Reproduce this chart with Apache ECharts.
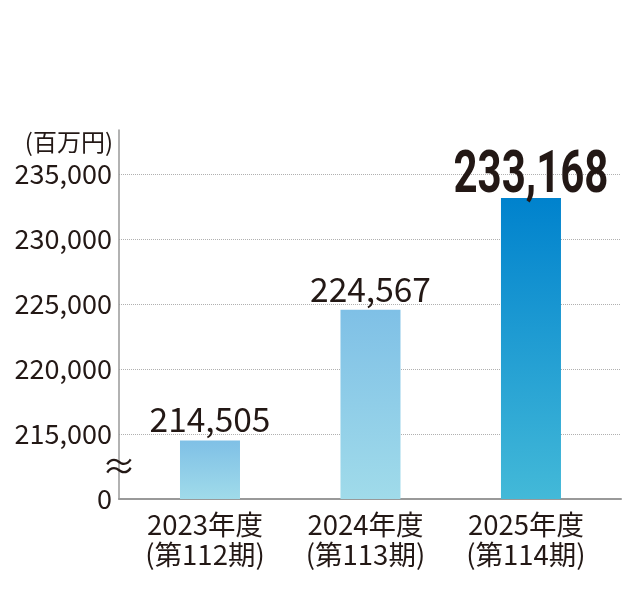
<!DOCTYPE html>
<html><head><meta charset="utf-8">
<script src="https://cdn.jsdelivr.net/npm/echarts@6/dist/echarts.min.js"></script>
<style>html,body{margin:0;padding:0;background:#fff}#c{width:635px;height:600px}</style>
</head><body><div id="c"></div>
<script>
// ---- data ----
const fiscalYears = ['2023年度', '2024年度', '2025年度'];
const periods = ['(第112期)', '(第113期)', '(第114期)'];
const sales = [214505, 224567, 233168];          // 百万円
const unitLabel = '(百万円)';
const axisFloor = 210000;                          // shown as "0" below the break
const yTickStep = 5000;

// ---- styling ----
const TXT = '#231815';
const JP = '"Noto Sans CJK JP", "Noto Sans", sans-serif';
const barGradients = [
  ['#7fc0e6', '#a0dbea'],
  ['#7fc0e6', '#a0dbea'],
  ['#0082cd', '#43b9d8']
];
const fmt = v => v.toLocaleString('en-US');
const lastIdx = sales.length - 1;

const chart = echarts.init(document.getElementById('c'), null, {renderer: 'canvas'});
const xMin = -0.567, xMax = 2.561;

const option = {
  animation: false,
  backgroundColor: '#fff',
  grid: {left: 119, right: 14, top: 130, bottom: 101, containLabel: false},
  xAxis: {
    type: 'value', min: xMin, max: xMax,
    axisLine: {show: true, onZero: false, lineStyle: {color: '#999', width: 2}},
    axisTick: {show: false},
    splitLine: {show: false},
    axisLabel: {
      customValues: fiscalYears.map((_, i) => i),
      formatter: v => fiscalYears[v] + '\n' + periods[v],
      color: TXT, fontSize: 27.5, lineHeight: 30, fontFamily: JP, margin: 11,
      padding: [0, 10, 0, 0]
    }
  },
  yAxis: {
    type: 'value', min: axisFloor, max: 238400, interval: yTickStep,
    name: unitLabel, nameLocation: 'end', nameGap: -12,
    nameTextStyle: {color: TXT, fontSize: 24, fontFamily: JP, align: 'right', verticalAlign: 'middle', padding: [0, 6, 0, 0]},
    axisLine: {show: true, onZero: false, lineStyle: {color: '#999', width: 1.5}},
    axisTick: {show: false},
    splitLine: {show: true, showMinLine: false, showMaxLine: false, lineStyle: {color: '#b0b0b0', type: 'dotted', width: 1}},
    axisLabel: {
      color: TXT, fontSize: 27, fontFamily: JP, margin: 7,
      formatter: v => v === axisFloor ? '0' : (v % yTickStep === 0 ? fmt(v) : '')
    }
  },
  series: [{
    type: 'bar',
    barWidth: 60,
    data: sales.map((v, i) => ({
      value: [i, v],
      itemStyle: {color: new echarts.graphic.LinearGradient(0, 0, 0, 1, [
        {offset: 0, color: barGradients[i][0]}, {offset: 1, color: barGradients[i][1]}])},
      label: {show: i !== lastIdx}
    })),
    label: {
      show: true, position: 'top', distance: 4,
      color: TXT, fontSize: 33.5, fontFamily: JP,
      formatter: p => fmt(p.value[1])
    }
  }]
};
chart.setOption(option);

// highlighted latest value: bold condensed (horizontally scaled) text above the last bar
const lastTop = chart.convertToPixel({gridIndex: 0}, [lastIdx, sales[lastIdx]]);
// axis-break mark on the y axis
const bp = chart.convertToPixel({gridIndex: 0}, [xMin, axisFloor + 2500]);
chart.setOption({
  graphic: [
    {
      type: 'text', x: lastTop[0], y: lastTop[1] - 21, scaleX: 0.70, z: 100,
      style: {text: fmt(sales[lastIdx]), fontSize: 60, fontWeight: 'bold', fill: TXT,
              align: 'center', verticalAlign: 'middle', fontFamily: 'Roboto, "Noto Sans", sans-serif'}
    },
    {
      type: 'text', x: bp[0], y: bp[1], z: 100,
      style: {text: '≈', fontSize: 34, fill: TXT, align: 'center', verticalAlign: 'middle', fontFamily: JP}
    }
  ]
});
</script></body></html>
